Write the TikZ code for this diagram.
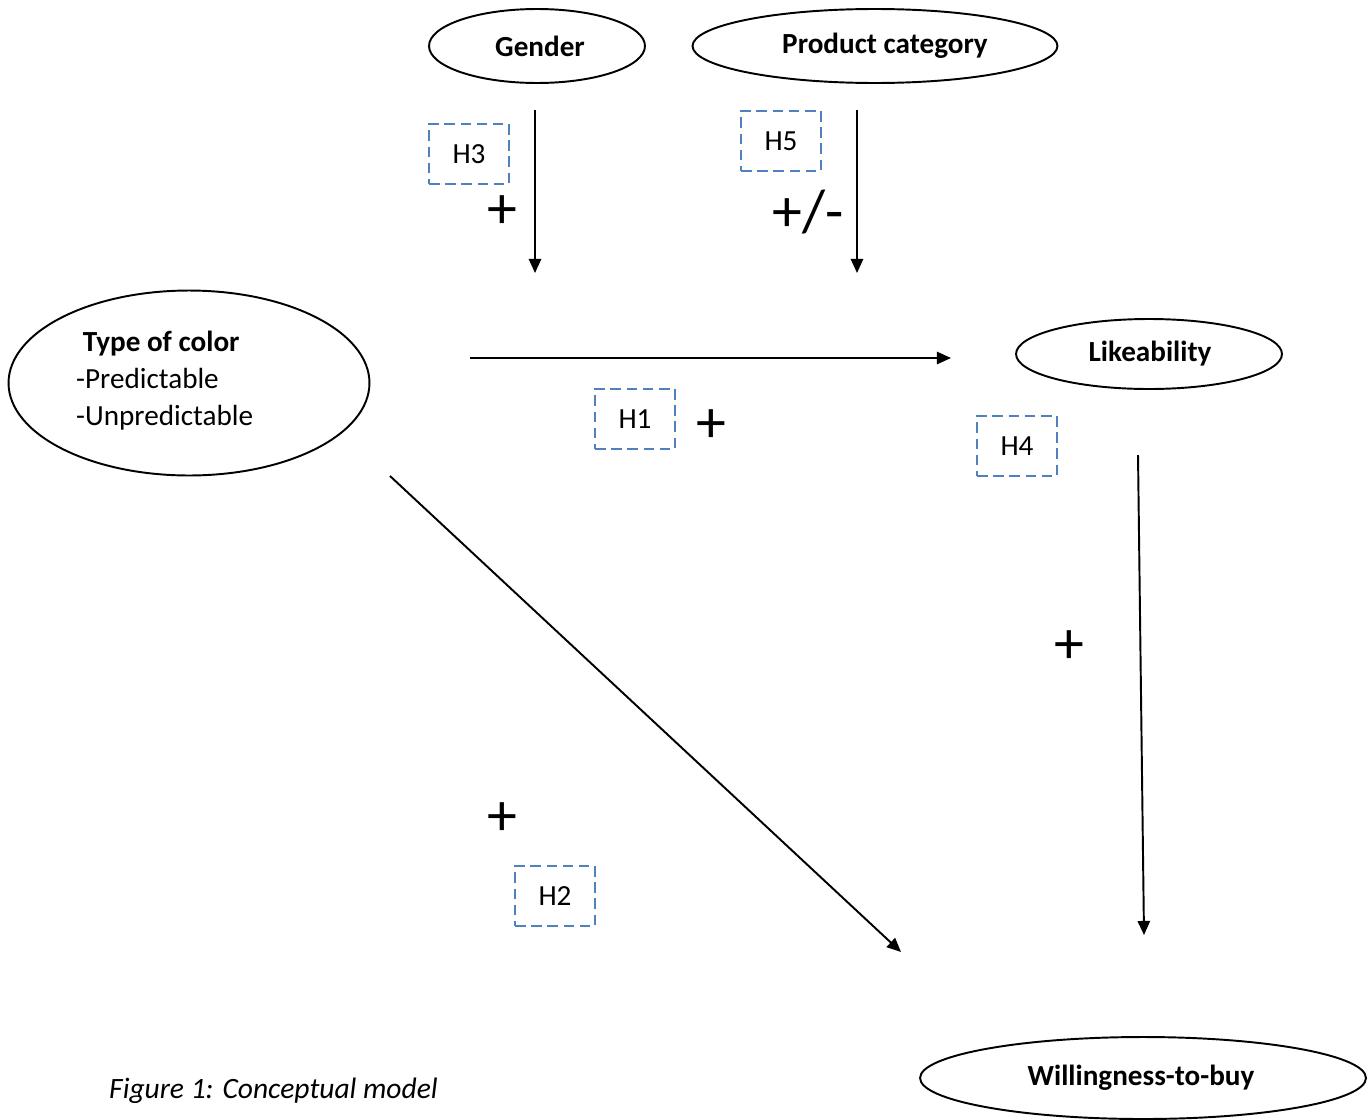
\documentclass[tikz,border=0pt]{standalone}
\usepackage{fontspec}
\setmainfont{Carlito}
\usetikzlibrary{shapes.geometric,arrows.meta}
\definecolor{hblue}{HTML}{4F81BD}
\begin{document}
\begin{tikzpicture}[x=0.02cm,y=-0.02cm,
  oval/.style={draw,ellipse,line width=1.1pt,inner sep=0pt},
  lbl/.style={font=\fontsize{16.6}{19}\selectfont\bfseries},
  hbox/.style={draw=hblue,line width=1.3pt,dash pattern=on 6pt off 3.2pt,minimum width=1.6cm,minimum height=1.2cm,inner sep=0pt,font=\fontsize{16.6}{19}\selectfont},
  sign/.style={font=\fontsize{34}{36}\selectfont,inner sep=0pt},
  arr/.style={line width=1.1pt,-{Triangle[length=8pt,width=7pt]}}]
\useasboundingbox (0,0) rectangle (1368,1119);
% ellipses
\node[oval,minimum width=4.32cm,minimum height=1.48cm] (gender) at (537,46) {};
\node[lbl] (gendert) at (540,46) {Gender};
\node[oval,minimum width=7.3cm,minimum height=1.48cm] (prod) at (875,46) {};
\node[lbl] (prodt) at (885,46) {Product category};
\node[oval,minimum width=7.22cm,minimum height=3.7cm] (type) at (189,383) {};
\node[align=left,anchor=west,font=\fontsize{16.6}{21}\selectfont] (typet) at (70,381) {\ \textbf{Type of color}\\-Predictable\\-Unpredictable};
\node[oval,minimum width=5.32cm,minimum height=1.4cm] (like) at (1149,354) {};
\node[lbl] (liket) at (1150,354) {Likeability};
\node[oval,minimum width=8.92cm,minimum height=1.64cm] (will) at (1143,1078) {};
\node[lbl] (willt) at (1141,1078) {Willingness-to-buy};
% arrow end points
\coordinate (g1) at (535,110); \coordinate (g2) at (535,273);
\coordinate (p1) at (857,110); \coordinate (p2) at (857,273);
\coordinate (h1a) at (470,358); \coordinate (h1b) at (951,358);
\coordinate (d1) at (390,476); \coordinate (d2) at (901,952);
\coordinate (v1) at (1138,455); \coordinate (v2) at (1144,935);
\draw[arr] (g1) -- (g2);
\draw[arr] (p1) -- (p2);
\draw[arr] (h1a) -- (h1b);
\draw[arr] (d1) -- (d2);
\draw[arr] (v1) -- (v2);
% hypothesis boxes
\node[hbox] (H3) at (469,154) {H3};
\node[hbox] (H5) at (781,141) {H5};
\node[hbox] (H1) at (635,419) {H1};
\node[hbox] (H4) at (1017,446) {H4};
\node[hbox] (H2) at (555,896) {H2};
% signs
\node[sign] (s3) at (502,212) {+};
\node[sign] (s5) at (808,212) {+/-};
\node[sign] (s1) at (711,426) {+};
\node[sign] (s4) at (1069,647) {+};
\node[sign] (s2) at (502,819) {+};
% caption
\node[font=\fontsize{16.8}{19}\selectfont\itshape,anchor=west] (cap) at (103,1091) {Figure 1: Conceptual model};
\end{tikzpicture}
\end{document}
